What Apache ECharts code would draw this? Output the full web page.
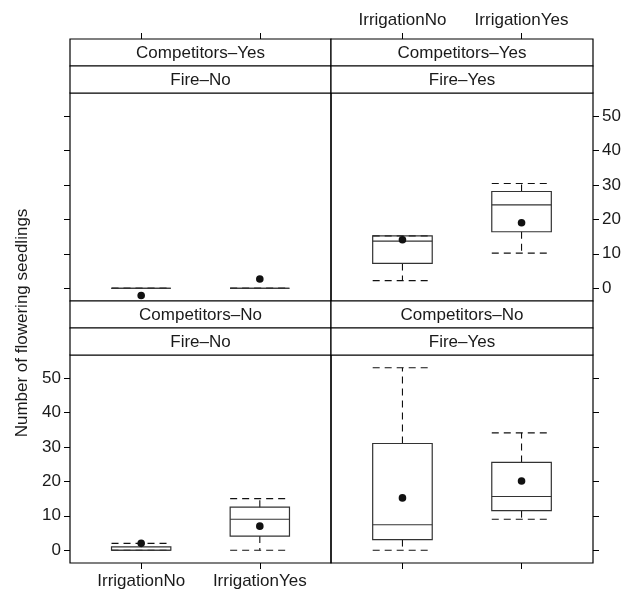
<!DOCTYPE html>
<html><head><meta charset="utf-8">
<script src="https://cdn.jsdelivr.net/npm/echarts@6/dist/echarts.min.js"></script>
<style>html,body{margin:0;padding:0;background:#fff}#c{width:633px;height:592px}</style>
</head><body><div id="c"></div><script>
// ---- data ----
const categories = ['IrrigationNo', 'IrrigationYes'];
const competitorStrips = ['Competitors–Yes', 'Competitors–Yes', 'Competitors–No', 'Competitors–No'];
const fireStrips = ['Fire–No', 'Fire–Yes', 'Fire–No', 'Fire–Yes'];
const yTicks = [0, 10, 20, 30, 40, 50];
// panel order: top-left, top-right, bottom-left, bottom-right; inner: [IrrigationNo, IrrigationYes]
const lowerWhisker  = [[0, 0], [2.2, 10.2], [0, 0], [0, 9.0]];
const lowerQuartile = [[0, 0], [7.2, 16.4], [0, 4.1], [3.1, 11.5]];
const medians       = [[0, 0], [13.7, 24.2], [0, 9.0], [7.4, 15.6]];
const upperQuartile = [[0, 0], [15.2, 28.1], [1.0, 12.5], [31.0, 25.5]];
const upperWhisker  = [[0, 0], [15.2, 30.4], [2.0, 15.0], [53.0, 34.1]];
const means         = [[-2.1, 2.7], [14.1, 19.0], [2.0, 7.0], [15.2, 20.1]];
const yMin = -3.71, yMax = 56.71;

// ---- layout ----
const FONT = 'Liberation Sans';
const FS = 17;
const TXT = '#1a1a1a';
const colLeft = [70, 331], colW = [261, 262];
const frameTop = 39, stripH = 27, panelH = 208;
const rowStripTop = [frameTop, frameTop + 2 * stripH + panelH];
const rowTop = rowStripTop.map(t => t + 2 * stripH);

const grids = [], xAxes = [], yAxes = [], series = [], graphics = [];
for (let i = 0; i < 4; i++) {
  const r = Math.floor(i / 2), c = i % 2;
  grids.push({ left: colLeft[c], top: rowTop[r], width: colW[c], height: panelH,
    show: true, borderColor: '#000', borderWidth: 1.2, backgroundColor: 'transparent' });
  const showX = (i === 1 || i === 2), showY = (i === 1 || i === 2);
  xAxes.push({ type: 'value', gridIndex: i, min: 0.4, max: 2.6,
    position: r === 0 ? 'top' : 'bottom', offset: r === 0 ? 2 * stripH : 0,
    axisLine: { show: false, onZero: false }, splitLine: { show: false },
    axisTick: { show: true, length: 6, customValues: [1, 2], lineStyle: { color: '#000' } },
    axisLabel: { show: showX, customValues: [1, 2], margin: 10,
      formatter: v => categories[Math.round(v) - 1], fontFamily: FONT, fontSize: FS, color: TXT } });
  yAxes.push({ type: 'value', gridIndex: i, min: yMin, max: yMax,
    position: c === 0 ? 'left' : 'right',
    axisLine: { show: false, onZero: false }, splitLine: { show: false },
    axisTick: { show: true, length: 6, customValues: yTicks, lineStyle: { color: '#000' } },
    axisLabel: { show: showY, customValues: yTicks, margin: 9, fontFamily: FONT, fontSize: FS, color: TXT } });
  series.push({
    type: 'custom', xAxisIndex: i, yAxisIndex: i, clip: false,
    data: categories.map((cat, j) => [j + 1, lowerWhisker[i][j], lowerQuartile[i][j], medians[i][j],
      upperQuartile[i][j], upperWhisker[i][j], means[i][j]]),
    renderItem: (params, api) => {
      const x = api.value(0);
      const p = k => api.coord([x, api.value(k)]);
      const lo = p(1), q1 = p(2), md = p(3), q3 = p(4), hi = p(5), mn = p(6);
      const cx = lo[0];
      const half = api.size([0.5, 0])[0] / 2;
      const dash = { stroke: '#111', lineWidth: 1.1, lineDash: [7, 5] };
      const solid = { stroke: '#333', lineWidth: 1.2, fill: null };
      return { type: 'group', children: [
        { type: 'line', shape: { x1: cx, y1: q1[1], x2: cx, y2: lo[1] }, style: dash },
        { type: 'line', shape: { x1: cx, y1: q3[1], x2: cx, y2: hi[1] }, style: dash },
        { type: 'line', shape: { x1: cx - half, y1: lo[1], x2: cx + half, y2: lo[1] }, style: dash },
        { type: 'line', shape: { x1: cx - half, y1: hi[1], x2: cx + half, y2: hi[1] }, style: dash },
        { type: 'rect', shape: { x: cx - half, y: q3[1], width: 2 * half, height: q1[1] - q3[1] }, style: solid },
        { type: 'line', shape: { x1: cx - half, y1: md[1], x2: cx + half, y2: md[1] }, style: solid },
        { type: 'circle', shape: { cx: cx, cy: mn[1], r: 3.8 }, style: { fill: '#111' } }
      ] };
    }
  });
  // strips
  [competitorStrips[i], fireStrips[i]].forEach((label, s) => {
    const y0 = rowStripTop[r] + s * stripH;
    graphics.push({ type: 'rect', shape: { x: colLeft[c], y: y0, width: colW[c], height: stripH },
      style: { fill: '#fff', stroke: '#000', lineWidth: 1.2 } });
    graphics.push({ type: 'text', x: colLeft[c] + colW[c] / 2, y: y0 + stripH / 2 + 1,
      style: { text: label, fontFamily: FONT, fontSize: FS, fill: TXT, align: 'center', verticalAlign: 'middle' } });
  });
}
graphics.push({ type: 'text', x: 22, y: 323, rotation: Math.PI / 2,
  style: { text: 'Number of flowering seedlings', fontFamily: FONT, fontSize: FS, fill: TXT,
    align: 'center', verticalAlign: 'middle' } });

const chart = echarts.init(document.getElementById('c'), null, { renderer: 'canvas' });
chart.setOption({ animation: false, backgroundColor: '#fff', grid: grids, xAxis: xAxes, yAxis: yAxes,
  series: series, graphic: graphics });
</script></body></html>
